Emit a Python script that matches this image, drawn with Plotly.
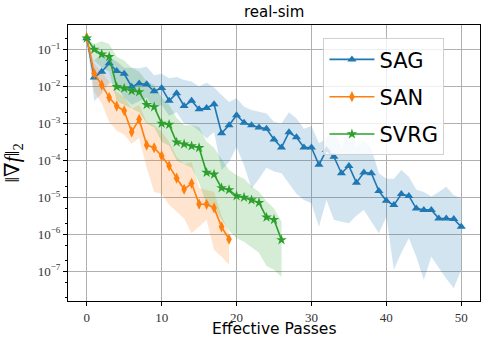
import plotly.graph_objects as go

# ---------------- data ----------------
sag_x = list(range(0, 51))
sag_mean = [2.0e-1, 1.74e-2, 2.5e-2, 4.2e-2, 2.6e-2, 2.2e-2, 9.8e-3, 1.2e-2, 1.15e-2, 7.4e-3,
            9.1e-3, 4.1e-3, 6.5e-3, 2.95e-3, 4.1e-3, 2.4e-3, 2.6e-3, 3.3e-3, 5.4e-4, 8.9e-4,
            1.66e-3, 1.05e-3, 8.9e-4, 7.8e-4, 7.2e-4, 3.7e-4, 2.24e-4, 5.75e-4, 4.2e-4, 2.24e-4,
            2.24e-4, 7.6e-5, 1.9e-4, 1.26e-4, 4.5e-5, 7.1e-5, 2.5e-5, 4.7e-5, 4.5e-5, 1.48e-5,
            8.1e-6, 6.2e-6, 1.23e-5, 1.1e-5, 5.0e-6, 4.6e-6, 4.6e-6, 2.7e-6, 2.7e-6, 2.6e-6,
            1.6e-6]
sag_upper = [2.0e-1, 5.0e-2, 7.8e-2, 6.3e-2, 4.7e-2, 3.2e-2, 3.2e-2, 3.1e-2, 3.4e-2, 2.0e-2,
             2.2e-2, 1.66e-2, 1.8e-2, 1.48e-2, 1.35e-2, 1.0e-2, 1.26e-2, 9.3e-3, 5.9e-3, 3.8e-3,
             4.8e-3, 2.8e-3, 2.3e-3, 2.1e-3, 1.86e-3, 1.1e-3, 1.0e-3, 2.0e-3, 1.35e-3, 7.2e-4,
             8.5e-4, 2.9e-4, 4.0e-4, 6.6e-4, 2.3e-4, 6.6e-4, 2.5e-4, 3.2e-4, 2.1e-4, 4.5e-5,
             3.2e-5, 3.2e-5, 5.5e-5, 3.6e-5, 1.6e-5, 1.4e-5, 1.05e-5, 1.4e-5, 1.95e-5, 1.15e-5,
             9.3e-6]
sag_lower = [2.0e-1, 4.0e-3, 6.3e-3, 1.26e-2, 1.0e-2, 5.0e-3, 3.2e-3, 4.0e-3, 5.0e-3, 2.5e-3,
             3.2e-3, 1.6e-3, 2.0e-3, 1.0e-3, 8.9e-4, 6.3e-4, 3.9e-4, 5.9e-4, 5.5e-5, 9.1e-5,
             2.3e-4, 7.4e-5, 1.74e-5, 3.2e-5, 6.3e-5, 5.0e-5, 4.5e-5, 2.4e-5, 1.26e-5, 8.5e-6,
             6.9e-6, 1.6e-6, 8.5e-6, 2.5e-6, 2.2e-6, 2.0e-6, 3.2e-6, 4.6e-6, 2.2e-6, 1.07e-6,
             3.0e-6, 1.1e-7, 3.2e-7, 7.9e-7, 2.5e-7, 5.9e-8, 2.5e-7, 1.26e-7, 6.3e-8, 3.5e-8,
             1.1e-7]

san_x = list(range(0, 20))
san_mean = [2.1e-1, 2.24e-2, 1.1e-2, 5.0e-3, 2.95e-3, 2.2e-3, 5.9e-4, 1.29e-3, 2.6e-4, 2.2e-4,
            1.32e-4, 7.1e-5, 3.3e-5, 1.66e-5, 2.4e-5, 6.6e-6, 6.5e-6, 5.2e-6, 1.6e-6, 7.4e-7]
san_upper = [2.1e-1, 4.2e-2, 2.5e-2, 1.3e-2, 7.1e-3, 5.2e-3, 2.5e-3, 3.2e-3, 1.1e-3, 8.9e-4,
             5.9e-4, 3.2e-4, 1.26e-4, 7.9e-5, 9.1e-5, 1.8e-5, 1.6e-5, 1.4e-5, 3.2e-6, 1.1e-6]
san_lower = [2.1e-1, 7.1e-3, 3.5e-3, 1.1e-3, 6.3e-4, 5.0e-4, 2.8e-4, 4.0e-4, 6.3e-5, 1.4e-5,
             1.26e-5, 6.3e-6, 4.0e-6, 2.7e-6, 1.07e-6, 1.6e-6, 2.5e-6, 3.8e-7, 2.5e-7, 1.5e-7]

svrg_x = list(range(0, 27))
svrg_mean = [2.0e-1, 1.0e-1, 7.4e-2, 6.3e-2, 9.8e-3, 8.9e-3, 7.6e-3, 7.1e-3, 3.2e-3, 2.8e-3,
             1.0e-3, 9.3e-4, 3.1e-4, 2.75e-4, 2.45e-4, 2.2e-4, 4.7e-5, 4.2e-5, 1.8e-5, 1.6e-5,
             1.1e-5, 1.0e-5, 8.5e-6, 7.2e-6, 2.9e-6, 2.5e-6, 7.1e-7]
svrg_upper = [2.0e-1, 1.4e-1, 1.66e-1, 1.4e-1, 6.3e-2, 5.0e-2, 3.2e-2, 2.5e-2, 1.4e-2, 1.1e-2,
              5.0e-3, 3.2e-3, 1.4e-3, 8.9e-4, 8.9e-4, 7.9e-4, 3.2e-4, 2.2e-4, 1.1e-4, 5.6e-5,
              4.0e-5, 3.2e-5, 2.0e-5, 1.4e-5, 7.9e-6, 5.0e-6, 2.2e-6]
svrg_lower = [2.0e-1, 5.0e-2, 3.2e-2, 2.5e-2, 4.0e-3, 3.2e-3, 2.5e-3, 2.0e-3, 1.0e-3, 7.9e-4,
              3.2e-4, 2.5e-4, 1.0e-4, 7.9e-5, 6.3e-5, 2.5e-5, 6.3e-6, 5.0e-6, 2.5e-6, 1.26e-6,
              7.9e-7, 6.3e-7, 4.5e-7, 3.2e-7, 1.4e-7, 1.1e-7, 7.1e-8]

x_ticks = [0, 10, 20, 30, 40, 50]
y_ticks = [1e-7, 1e-6, 1e-5, 1e-4, 1e-3, 1e-2, 1e-1]
y_ticktext = ["10<sup>\u22127</sup>", "10<sup>\u22126</sup>", "10<sup>\u22125</sup>",
              "10<sup>\u22124</sup>", "10<sup>\u22123</sup>", "10<sup>\u22122</sup>",
              "10<sup>\u22121</sup>"]

series = [
    ("SAG", sag_x, sag_mean, sag_upper, sag_lower, "#1f77b4", "rgba(31,119,180,0.2)", "triangle-up", 8),
    ("SAN", san_x, san_mean, san_upper, san_lower, "#ff7f0e", "rgba(255,127,14,0.2)", "diamond-tall", 8),
    ("SVRG", svrg_x, svrg_mean, svrg_upper, svrg_lower, "#2ca02c", "rgba(44,160,44,0.2)", "star", 8),
]

fig = go.Figure()

# shaded bands
for name, xs, m, up, lo, col, fillcol, sym, ms in series:
    fig.add_trace(go.Scatter(
        x=xs + xs[::-1], y=up + lo[::-1], fill="toself", fillcolor=fillcol,
        line=dict(width=0), mode="lines", hoverinfo="skip", showlegend=False))

# lines with markers
for name, xs, m, up, lo, col, fillcol, sym, ms in series:
    fig.add_trace(go.Scatter(
        x=xs, y=m, mode="lines+markers", name=name, legendgroup=name,
        line=dict(color=col, width=1.6),
        marker=dict(symbol=sym, size=ms, color=col, line=dict(width=0))))

serif = "Liberation Serif, DejaVu Serif, serif"
sans = "DejaVu Sans, sans-serif"

fig.update_layout(
    width=481, height=341,
    margin=dict(l=68, r=1, t=25, b=40, autoexpand=False),
    paper_bgcolor="white", plot_bgcolor="white",
    title=dict(text="real-sim", x=0.57, xanchor="center", y=0.965, yanchor="middle",
               font=dict(family=sans, size=15, color="black"), automargin=False),
    showlegend=True,
    legend=dict(x=0.62, y=0.952, xanchor="left", yanchor="top",
                bgcolor="rgba(255,255,255,0.8)", bordercolor="#d0d0d0", borderwidth=1,
                font=dict(family=sans, size=21, color="black"),
                itemwidth=45, tracegroupgap=7),
    font=dict(family=sans, color="black"),
)

# x-axis title placed as an annotation so it sits just below the tick labels
fig.add_annotation(text="Effective Passes", xref="paper", yref="paper",
                   x=0.5, y=-0.143, xanchor="center", yanchor="bottom", showarrow=False,
                   font=dict(family=sans, size=15.5, color="black"))

fig.update_xaxes(
    range=[-2.5, 52.5], tickvals=x_ticks, ticktext=[str(v) for v in x_ticks],
    showgrid=True, gridcolor="#b0b0b0", gridwidth=1,
    ticks="outside", ticklen=4, tickcolor="black",
    showline=True, linecolor="black", linewidth=1, mirror=True, zeroline=False,
    tickfont=dict(family=serif, size=13, color="#333"), automargin=False,
)

fig.update_yaxes(
    type="log", range=[-7.8, -0.34], tickvals=y_ticks, ticktext=y_ticktext,
    showgrid=True, gridcolor="#b0b0b0", gridwidth=1,
    ticks="outside", ticklen=4, tickcolor="black",
    minor=dict(ticks="outside", ticklen=2, tickcolor="black", showgrid=False),
    showline=True, linecolor="black", linewidth=1, mirror=True, zeroline=False,
    tickfont=dict(family=serif, size=13, color="#333"), automargin=False,
    title=dict(text="\u2016\u2207<i>f</i>\u2016<sub>2</sub>", font=dict(family=serif, size=21, color="black")),
)

fig.write_html("out.html", config={"displayModeBar": False},
               post_script="document.body.style.margin='0';document.body.style.overflow='hidden';")
